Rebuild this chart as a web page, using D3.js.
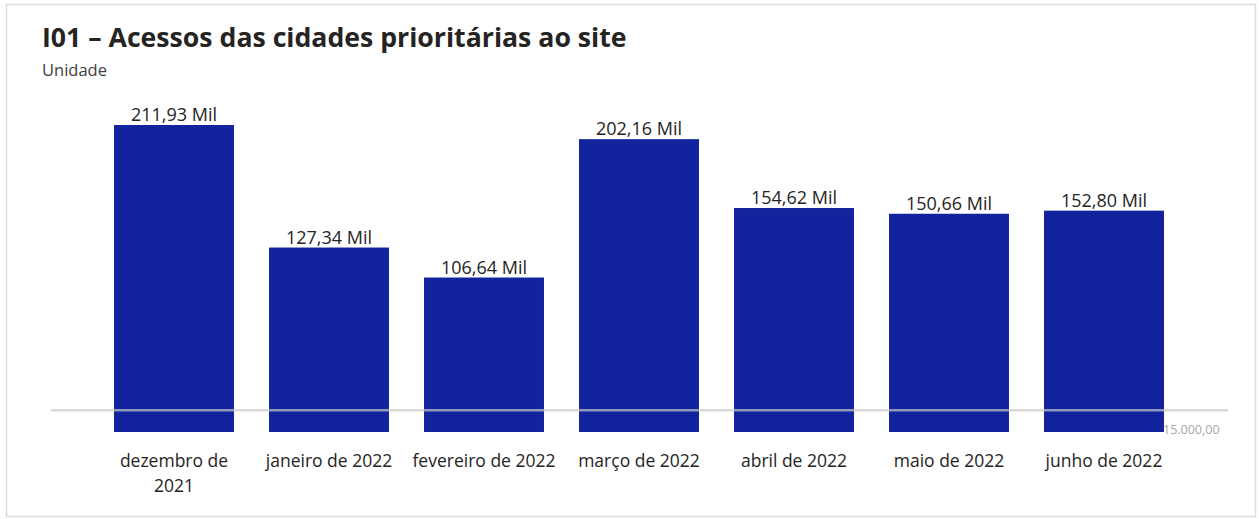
<!DOCTYPE html>
<html><head><meta charset="utf-8">
<script src="https://cdn.jsdelivr.net/npm/d3@7"></script>
<style>
html,body{margin:0;padding:0;background:#fff;}
svg{display:block;font-family:"Open Sans","Noto Sans",sans-serif;}
</style></head>
<body><svg id="c" width="1260" height="519"></svg>
<script>
const categories = ["dezembro de 2021","janeiro de 2022","fevereiro de 2022","março de 2022","abril de 2022","maio de 2022","junho de 2022"];
const values = [211930,127340,106640,202160,154620,150660,152800];
const valueLabels = ["211,93 Mil","127,34 Mil","106,64 Mil","202,16 Mil","154,62 Mil","150,66 Mil","152,80 Mil"];
const referenceValue = 15000;
const referenceLabel = "15.000,00";
const title = "I01 – Acessos das cidades prioritárias ao site";
const subtitle = "Unidade";

const svg = d3.select("#c");
svg.append("rect").attr("x",6.5).attr("y",4.5).attr("width",1249).attr("height",512)
  .attr("fill","#fff").attr("stroke","#dcdcdc").attr("stroke-width",1.5);

const t = svg.append("text").attr("x",42).attr("y",47).attr("fill","#252423")
  .attr("font-weight",700).attr("font-size",26).text(title);
const tw = t.node().getComputedTextLength();
t.attr("font-size", 26*585/tw);

svg.append("text").attr("x",42).attr("y",76).attr("fill","#404040")
  .attr("font-size",16.5).text(subtitle);

const x = d3.scaleBand().domain(categories).range([96.5,1181.5]).paddingInner(0.226).paddingOuter(0.113);
const y = d3.scaleLinear().domain([0,220000]).range([432, 432-220000*307/211930]);

svg.append("g").selectAll("rect").data(values).join("rect")
  .attr("x",(d,i)=>x(categories[i])).attr("width",x.bandwidth())
  .attr("y",d=>y(d)).attr("height",d=>y(0)-y(d)).attr("fill","#12239E");

svg.append("g").selectAll("text").data(values).join("text")
  .attr("x",(d,i)=>x(categories[i])+x.bandwidth()/2).attr("y",d=>y(d)-4)
  .attr("text-anchor","middle").attr("font-size",18).attr("fill","#252423")
  .text((d,i)=>valueLabels[i]);

// reference line
svg.append("line").attr("x1",51).attr("x2",1228).attr("y1",y(referenceValue)).attr("y2",y(referenceValue))
  .attr("stroke","#c8c8c8").attr("stroke-width",2.5).attr("stroke-opacity",0.7);
svg.append("text").attr("x",1163).attr("y",y(0)+2).attr("font-size",12.5).attr("fill","#a8a8a8")
  .text(referenceLabel);

// x axis labels
const xl = svg.append("g").selectAll("text").data(categories).join("text")
  .attr("x",d=>x(d)+x.bandwidth()/2).attr("y",467).attr("text-anchor","middle")
  .attr("font-size",17.5).attr("fill","#252423");
xl.each(function(d){
  const el = d3.select(this);
  const cx = x(d)+x.bandwidth()/2;
  el.text(d);
  if (this.getComputedTextLength() > 146) {
    const parts = d.split(" ");
    const last = parts.pop();
    el.text(null);
    el.append("tspan").attr("x",cx).attr("dy",0).text(parts.join(" "));
    el.append("tspan").attr("x",cx).attr("dy",25).text(last);
  }
});
</script></body></html>
